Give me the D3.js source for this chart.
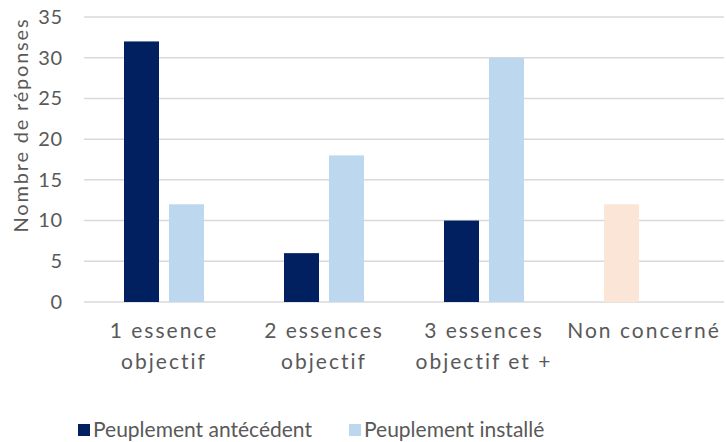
<!DOCTYPE html>
<html>
<head>
<meta charset="utf-8">
<script src="https://cdn.jsdelivr.net/npm/d3@7"></script>
<style>
  body { margin: 0; background: #fff; }
  text { font-family: Lato, "Open Sans", sans-serif; fill: #595959; }
</style>
</head>
<body>
<div id="chart"></div>
<script>
// data
const categories = [["1 essence", "objectif"], ["2 essences", "objectif"], ["3 essences", "objectif et +"], ["Non concerné"]];
const series = ["Peuplement antécédent", "Peuplement installé"];
const antecedent = [32, 6, 10, 12];
const installe = [12, 18, 30, null];
const yTicks = [0, 5, 10, 15, 20, 25, 30, 35];
const colors = ["#002060", "#BDD7EE"];
const specialColor = "#FBE5D6"; // "Non concerné" bar

const width = 726, height = 442;

const svg = d3.select("#chart")
  .append("svg")
  .attr("width", width)
  .attr("height", height);

const x = d3.scaleBand()
  .domain(d3.range(categories.length))
  .range([84, 724]);

// 40px side padding, 35px bars, 10px gap
const xInner = d3.scaleBand()
  .domain([0, 1])
  .range([40, x.bandwidth() - 40])
  .paddingInner(10 / 45);

const y = d3.scaleLinear()
  .domain([0, 35])
  .range([302, 17]);

// gridlines
svg.append("g")
  .selectAll("line")
  .data(yTicks)
  .enter()
  .append("line")
  .attr("x1", 84)
  .attr("x2", 724)
  .attr("y1", d => y(d))
  .attr("y2", d => y(d))
  .attr("stroke", "#D9D9D9")
  .attr("stroke-width", 1.5);

// y axis labels
const yAxis = d3.axisLeft(y).tickValues(yTicks).tickSize(0).tickPadding(0);
const yg = svg.append("g")
  .attr("transform", "translate(63,0)")
  .call(yAxis);
yg.select(".domain").remove();
yg.selectAll("text")
  .attr("font-size", "20px")
  .attr("letter-spacing", "0.8px")
  .attr("font-family", "Lato, Open Sans, sans-serif")
  .attr("fill", "#595959");

// y title
svg.append("text")
  .attr("transform", "translate(28,125) rotate(-90)")
  .attr("text-anchor", "middle")
  .attr("font-size", "20px")
  .attr("letter-spacing", "1.8px")
  .text("Nombre de réponses");

// bars
const rows = [];
categories.forEach((c, i) => {
  rows.push({ cat: i, s: 0, v: antecedent[i] });
  if (installe[i] != null) rows.push({ cat: i, s: 1, v: installe[i] });
});

svg.append("g")
  .selectAll("rect")
  .data(rows)
  .enter()
  .append("rect")
  .attr("x", d => x(d.cat) + xInner(d.s))
  .attr("width", xInner.bandwidth())
  .attr("y", d => y(d.v))
  .attr("height", d => y(0) - y(d.v))
  .attr("fill", d => d.cat === 3 ? specialColor : colors[d.s]);

// category labels
const xl = svg.append("g")
  .selectAll("text")
  .data(categories)
  .enter()
  .append("text")
  .attr("text-anchor", "middle")
  .attr("font-size", "21px")
  .attr("letter-spacing", "2px")
  .attr("x", (d, i) => x(i) + x.bandwidth() / 2)
  .attr("y", 338);

xl.selectAll("tspan")
  .data(d => d)
  .enter()
  .append("tspan")
  .attr("x", function () { return d3.select(this.parentNode).attr("x"); })
  .attr("dy", (d, i) => i === 0 ? 0 : 31)
  .text(d => d);

// legend
const legendX = [78, 349];
const legend = svg.append("g")
  .selectAll("g")
  .data(series)
  .enter()
  .append("g")
  .attr("transform", (d, i) => `translate(${legendX[i]},424)`);

legend.append("rect")
  .attr("width", 12)
  .attr("height", 12)
  .attr("fill", (d, i) => colors[i]);

legend.append("text")
  .attr("x", 15)
  .attr("y", 13)
  .attr("font-size", "21px")
  .text(d => d);
</script>
</body>
</html>
